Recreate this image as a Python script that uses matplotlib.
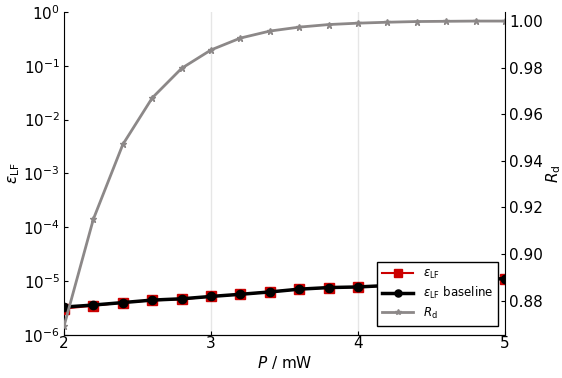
import matplotlib

matplotlib.use("Agg")

import matplotlib.pyplot as plt
from matplotlib.ticker import FixedLocator, LogLocator, NullLocator

power_mw = [2.0, 2.2, 2.4, 2.6, 2.8, 3.0, 3.2, 3.4, 3.6, 3.8, 4.0, 4.2, 4.4, 4.6, 4.8, 5.0]
eps_lf = [3.1e-6, 3.5e-6, 4.0e-6, 4.4e-6, 4.6e-6, 5.2e-6, 5.7e-6, 6.3e-6,
          7.1e-6, 7.6e-6, 7.8e-6, 8.3e-6, 8.9e-6, 9.6e-6, 1.04e-5, 1.12e-5]
eps_lf_baseline = [3.3e-6, 3.6e-6, 4.0e-6, 4.45e-6, 4.7e-6, 5.2e-6, 5.7e-6, 6.3e-6,
                   7.1e-6, 7.6e-6, 7.8e-6, 8.3e-6, 8.9e-6, 9.6e-6, 1.04e-5, 1.12e-5]
r_d = [0.869, 0.915, 0.947, 0.967, 0.9797, 0.9876, 0.9927, 0.9957,
       0.9974, 0.9985, 0.9991, 0.9995, 0.9998, 0.9999, 1.0, 1.0]

COLORS = {
    "red": "#CC0000",
    "black": "#000000",
    "gray": "#8C8888",
    "grid": "#E6E6E6",
}

plt.rcParams["font.family"] = "DejaVu Sans"
plt.rcParams["mathtext.fontset"] = "dejavusans"

figure = plt.figure(figsize=(5.62, 3.78), dpi=100)
axis = figure.add_axes([0.1139, 0.1138, 0.7847, 0.8545])
axis_right = axis.twinx()

axis.plot(power_mw, eps_lf, color=COLORS["red"], linewidth=1.5, marker="s",
          markersize=7.5, label=r"$\varepsilon_{\mathrm{LF}}$", zorder=3)
axis.plot(power_mw, eps_lf_baseline, color=COLORS["black"], linewidth=2.5, marker="o",
          markersize=6, label=r"$\varepsilon_{\mathrm{LF}}$ baseline", zorder=4)
axis_right.plot(power_mw, r_d, color=COLORS["gray"], linewidth=2, marker="*",
                markersize=5, label=r"$R_{\mathrm{d}}$")

axis.set_yscale("log")
axis.set_ylim(1e-6, 1e0)
axis.set_xlim(2, 5)
axis.yaxis.set_major_locator(LogLocator(base=10, numticks=10))
axis.yaxis.set_minor_locator(NullLocator())
axis.xaxis.set_major_locator(FixedLocator([2, 3, 4, 5]))
axis.grid(axis="x", color=COLORS["grid"], linewidth=1)
axis.set_axisbelow(True)

axis_right.set_ylim(0.8652, 1.0039)
axis_right.yaxis.set_major_locator(FixedLocator([0.88, 0.90, 0.92, 0.94, 0.96, 0.98, 1.00]))
axis_right.set_yticklabels(["0.88", "0.90", "0.92", "0.94", "0.96", "0.98", "1.00"])

for ax in (axis, axis_right):
    ax.spines["top"].set_visible(False)
    ax.tick_params(direction="in", labelsize=11, length=3, width=0.8, pad=3)
axis.tick_params(axis="x", pad=1)
axis.spines["right"].set_visible(False)
axis_right.spines["left"].set_visible(False)

axis.set_xlabel(r"$P$ / mW", fontsize=11, labelpad=2)
axis.set_ylabel(r"$\varepsilon_{\mathrm{LF}}$", fontsize=11, labelpad=1)
axis_right.set_ylabel(r"$R_{\mathrm{d}}$", fontsize=11, labelpad=1)

handles = axis.get_legend_handles_labels()[0] + axis_right.get_legend_handles_labels()[0]
labels = axis.get_legend_handles_labels()[1] + axis_right.get_legend_handles_labels()[1]
legend = axis_right.legend(handles, labels, loc="lower right", bbox_to_anchor=(0.998, 0.01),
                           fontsize=8.5, fancybox=False, framealpha=1, edgecolor="black",
                           borderpad=0.45, handlelength=2.6, labelspacing=0.35,
                           handletextpad=0.8, markerscale=0.85)
legend.get_frame().set_linewidth(1)

figure.savefig("out.png", dpi=100, facecolor="white")
